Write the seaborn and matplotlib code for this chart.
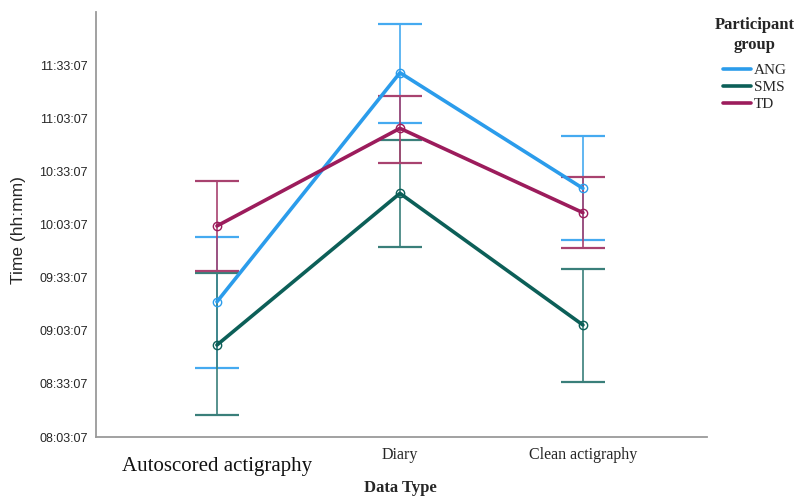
import numpy as np
import pandas as pd
import matplotlib
matplotlib.use("Agg")
import matplotlib.pyplot as plt
import seaborn as sns
from matplotlib.ticker import FuncFormatter, FixedLocator
from matplotlib.transforms import ScaledTranslation
from matplotlib.lines import Line2D

# ---- data (clock times, hh:mm:ss) ----
data_types = ["Autoscored actigraphy", "Diary", "Clean actigraphy"]
groups = ["ANG", "SMS", "TD"]

ang_mean = ["09:19:30", "11:28:50", "10:23:32"]
ang_low = ["08:42:14", "11:00:37", "09:54:22"]
ang_high = ["09:56:13", "11:56:20", "10:53:07"]

sms_mean = ["08:55:04", "10:20:43", "09:06:22"]
sms_low = ["08:15:32", "09:50:14", "08:34:22"]
sms_high = ["09:35:44", "10:50:50", "09:38:00"]

td_mean = ["10:02:18", "10:57:26", "10:09:48"]
td_low = ["09:36:52", "10:37:42", "09:49:42"]
td_high = ["10:27:42", "11:15:53", "10:29:48"]

y_tick_labels = ["08:03:07", "08:33:07", "09:03:07", "09:33:07",
                 "10:03:07", "10:33:07", "11:03:07", "11:33:07"]

colors = {"ANG": "#2B9CEB", "SMS": "#0C5F58", "TD": "#9C1C5C"}
bar_colors = {"ANG": "#45AAF0", "SMS": "#3A7F7A", "TD": "#A8426F"}


def to_min(s):
    h, m, sec = (int(v) for v in s.split(":"))
    return h * 60 + m + sec / 60.0


def fmt(v, pos=None):
    total = int(round(v * 60))
    h, r = divmod(total, 3600)
    m, s = divmod(r, 60)
    return f"{h:02d}:{m:02d}:{s:02d}"


means = {"ANG": ang_mean, "SMS": sms_mean, "TD": td_mean}
lows = {"ANG": ang_low, "SMS": sms_low, "TD": td_low}
highs = {"ANG": ang_high, "SMS": sms_high, "TD": td_high}

rows = []
for g in groups:
    for i, dt in enumerate(data_types):
        rows.append({"Data Type": dt, "pos": i, "group": g,
                     "mean": to_min(means[g][i]),
                     "low": to_min(lows[g][i]),
                     "high": to_min(highs[g][i])})
df = pd.DataFrame(rows)

sns.set_style("white")
fig = plt.figure(figsize=(7.95, 4.97), dpi=100)
ax = fig.add_axes([96 / 795, 60 / 497, (707 - 96) / 795, (437 - 12) / 497])

# error bars
for g in groups:
    sub = df[df.group == g]
    ax.errorbar(sub["pos"], sub["mean"],
                yerr=[sub["mean"] - sub["low"], sub["high"] - sub["mean"]],
                fmt="none", ecolor=bar_colors[g], elinewidth=1.2,
                capsize=15.5, capthick=1.6, zorder=2)

sns.lineplot(data=df, x="pos", y="mean", hue="group", hue_order=groups,
             palette=colors, linewidth=2.6, marker="o", markersize=6,
             markerfacecolor="none", markeredgewidth=1.0,
             ax=ax, legend=False, zorder=3, sort=False)
for line, g in zip(ax.get_lines()[-3:], groups):
    line.set_markeredgecolor(colors[g])

ymin = to_min(y_tick_labels[0])
ax.set_ylim(ymin, ymin + 240)
ax.set_xlim(-0.661, 2.678)
ax.yaxis.set_major_locator(FixedLocator([to_min(t) for t in y_tick_labels]))
ax.yaxis.set_major_formatter(FuncFormatter(fmt))
ax.set_xticks(range(len(data_types)))
ax.set_xticklabels(data_types, family="Liberation Serif", fontsize=11.5)
ax.tick_params(axis="both", length=0)
ax.tick_params(axis="y", pad=6, labelsize=9)
ax.tick_params(axis="x", pad=7)
for lab in ax.get_yticklabels():
    lab.set_family("Liberation Sans")

first = ax.get_xticklabels()[0]
first.set_fontsize(15)
first.set_color("#111111")
first.set_transform(first.get_transform() + ScaledTranslation(0, -10 / 100, fig.dpi_scale_trans))

for side in ["top", "right"]:
    ax.spines[side].set_visible(False)
for side in ["left", "bottom"]:
    ax.spines[side].set_color("#9a9a9a")
    ax.spines[side].set_linewidth(1.3)

ax.set_ylabel("Time (hh:mm)", family="Liberation Sans", fontsize=12.5)
ax.yaxis.set_label_coords(-0.1146, (437 - 230) / 425)
ax.set_xlabel("Data Type", family="Liberation Serif", fontweight="bold",
              fontsize=12)
ax.xaxis.set_label_coords(0.4975, (437 - 480) / 425)

handles = [Line2D([0], [0], color=colors[g], linewidth=2.6) for g in groups]
leg = fig.legend(handles, groups, title="Participant\ngroup",
                 loc="upper center", bbox_to_anchor=(755 / 795, 1 - 17 / 497),
                 frameon=False, handlelength=1.8, handletextpad=0.2,
                 labelspacing=0.2, borderaxespad=0, borderpad=0,
                 prop={"family": "Liberation Serif", "size": 11},
                 title_fontproperties={"family": "Liberation Serif",
                                       "weight": "bold", "size": 12})
leg.get_title().set_multialignment("center")
leg.get_title().set_linespacing(1.3)
leg._legend_box.sep = 8

fig.savefig("out.png", dpi=100)
